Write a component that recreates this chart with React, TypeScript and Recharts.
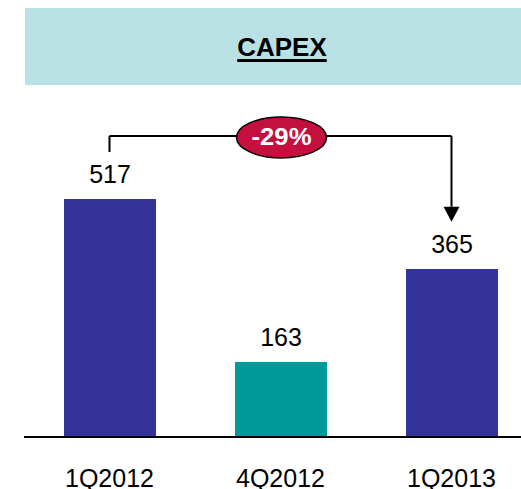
import React from 'react';
import { BarChart, Bar, XAxis, YAxis, Cell, LabelList, ReferenceLine, ReferenceDot } from 'recharts';

const quarters = ['1Q2012', '4Q2012', '1Q2013'];
const capex = [517, 163, 365];
const barColors = ['#333399', '#009999', '#333399'];
const changeLabel = '-29%';

// annotation levels (data units)
const BRACKET_LEVEL = 654;
const LEFT_LEG_END = 619;
const RIGHT_LEG_END = 500;

const data = quarters.map((q, i) => ({ quarter: q, capex: capex[i] }));

const ArrowShape = (props: any) => {
  const { x1, y1, x2, y2 } = props;
  return (
    <g>
      <line x1={x1} y1={y1} x2={x2} y2={y2} stroke="#000" strokeWidth={2} />
      <polygon points={`${x2 - 8},${y2} ${x2 + 8},${y2} ${x2},${y2 + 15}`} fill="#000" />
    </g>
  );
};

const PlainLine = (props: any) => {
  const { x1, y1, x2, y2 } = props;
  return <line x1={x1} y1={y1} x2={x2} y2={y2} stroke="#000" strokeWidth={2} />;
};

const Badge = (props: any) => {
  const { cx, cy } = props;
  return (
    <g>
      <ellipse cx={cx + 1} cy={cy + 1.5} rx={45} ry={20.5} fill="#c50f3f" stroke="#000" strokeWidth={1.5} />
      <text
        x={cx + 1}
        y={cy + 1.5}
        dy={8}
        textAnchor="middle"
        fill="#fff"
        fontWeight="bold"
        fontSize={23}
        textLength={60}
        lengthAdjust="spacingAndGlyphs"
      >
        {changeLabel}
      </text>
    </g>
  );
};

export default function App() {
  return (
    <div
      style={{
        position: 'absolute',
        left: 0,
        top: 0,
        width: 521,
        height: 489,
        overflow: 'hidden',
        background: '#fff',
        fontFamily: '"Liberation Sans", Arial, sans-serif',
      }}
    >
      <div
        style={{
          position: 'absolute',
          left: 25,
          top: 8,
          width: 514,
          height: 77,
          background: '#b9e0e3',
          display: 'flex',
          alignItems: 'center',
          justifyContent: 'center',
          paddingTop: 2,
          boxSizing: 'border-box',
        }}
      >
        <span
          style={{
            fontSize: 26,
            fontWeight: 'bold',
            color: '#000',
            textDecoration: 'underline',
            textDecorationThickness: '2.5px',
            textUnderlineOffset: '3px',
          }}
        >
          CAPEX
        </span>
      </div>
      <div style={{ position: 'absolute', left: 0, top: 0 }}>
        <BarChart width={560} height={489} data={data} margin={{ top: 199, right: 23, bottom: 0, left: 24 }}>
          <XAxis
            dataKey="quarter"
            height={52}
            axisLine={{ stroke: '#000', strokeWidth: 2 }}
            tickLine={false}
            tick={{ fontSize: 25, fill: '#000' }}
            tickMargin={26}
            interval={0}
          />
          <YAxis hide domain={[0, 517]} />
          <Bar dataKey="capex" barSize={92} isAnimationActive={false}>
            {data.map((d, i) => (
              <Cell key={d.quarter} fill={barColors[i]} />
            ))}
            <LabelList dataKey="capex" position="top" offset={16} fill="#000" fontSize={25} />
          </Bar>
          <ReferenceLine
            ifOverflow="visible"
            segment={[
              { x: quarters[0], y: LEFT_LEG_END },
              { x: quarters[0], y: BRACKET_LEVEL },
            ]}
            shape={PlainLine}
          />
          <ReferenceLine
            ifOverflow="visible"
            segment={[
              { x: quarters[0], y: BRACKET_LEVEL },
              { x: quarters[2], y: BRACKET_LEVEL },
            ]}
            shape={PlainLine}
          />
          <ReferenceLine
            ifOverflow="visible"
            segment={[
              { x: quarters[2], y: BRACKET_LEVEL },
              { x: quarters[2], y: RIGHT_LEG_END },
            ]}
            shape={ArrowShape}
          />
          <ReferenceDot ifOverflow="visible" x={quarters[1]} y={BRACKET_LEVEL} shape={Badge} />
        </BarChart>
      </div>
    </div>
  );
}
